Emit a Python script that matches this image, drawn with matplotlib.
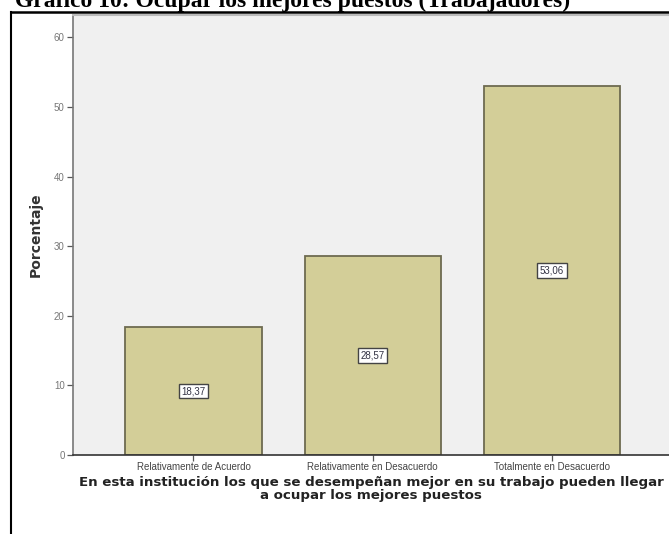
import numpy as np
import matplotlib
matplotlib.use('Agg')
import matplotlib.pyplot as plt

categorias = ['Relativamente de Acuerdo', 'Relativamente en Desacuerdo', 'Totalmente en Desacuerdo']
porcentajes = [18.37, 28.57, 53.06]
etiquetas = ['18,37', '28,57', '53,06']
yticks = [0, 10, 20, 30, 40, 50, 60]

fig = plt.figure(figsize=(6.69, 5.34), dpi=100)
ax = fig.add_axes([73/669, 1 - 455/534, 1 - 73/669, (455 - 15)/534])

x = np.arange(len(categorias))
ax.bar(x, porcentajes, width=0.76, color='#D3CE98', edgecolor='#6E6B50', linewidth=1.3, zorder=2)

for xi, v, t in zip(x, porcentajes, etiquetas):
    ax.text(xi, v / 2, t, ha='center', va='center', fontsize=7, color='#333344',
            family='Liberation Sans',
            bbox=dict(boxstyle='square,pad=0.25', fc='white', ec='#444444', lw=1.0), zorder=3)

ax.set_facecolor('#F0F0F0')
ax.set_xlim(-0.672, 2.653)
ax.set_ylim(0, 63.2)
ax.set_yticks(yticks)
ax.set_yticklabels([str(t) for t in yticks], fontsize=7, color='#777777', family='Liberation Sans')
ax.set_xticks(x)
ax.set_xticklabels(categorias, fontsize=7, color='#444444', family='Liberation Sans')
ax.tick_params(axis='both', length=4, width=0.9, color='#555555', pad=2)
ax.tick_params(axis='x', pad=1)

for s in ['top', 'right']:
    ax.spines[s].set_visible(False)
ax.spines['left'].set_color('#777777')
ax.spines['bottom'].set_color('#333333')
ax.spines['left'].set_linewidth(1.2)
ax.spines['bottom'].set_linewidth(1.2)

ax.set_ylabel('Porcentaje', fontsize=10, fontweight='bold', color='#333333', labelpad=8)
ax.set_xlabel('En esta institución los que se desempeñan mejor en su trabajo pueden llegar\n'
              'a ocupar los mejores puestos', fontsize=9.6, fontweight='bold', color='#222222',
              labelpad=3, linespacing=1.0)

# top gray line of the chart area
fig.add_artist(plt.Line2D([73/669, 1], [1 - 15/534, 1 - 15/534], color='#BBBBBB', lw=1.5))

# outer border (left and top)
fig.add_artist(plt.Line2D([10.5/669, 10.5/669], [0, 1 - 12/534], color='black', lw=1.5))
fig.add_artist(plt.Line2D([10.5/669, 1], [1 - 12/534, 1 - 12/534], color='black', lw=1.8))

# title cut off at the top (as in the source)
fig.text(15/669, 1 - 7/534, 'Gráfico 10: Ocupar los mejores puestos (Trabajadores)',
         fontsize=17, fontweight='bold', family='Liberation Serif', va='baseline', ha='left')

fig.savefig('out.png', dpi=100)
